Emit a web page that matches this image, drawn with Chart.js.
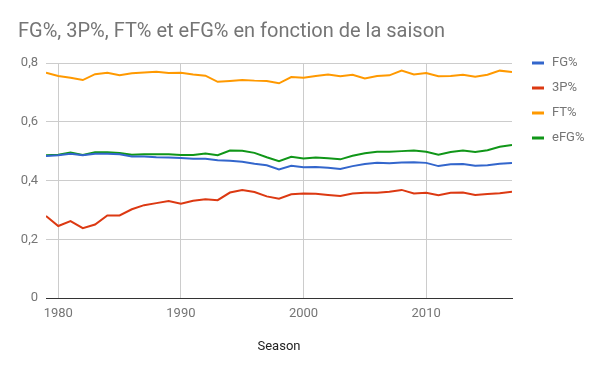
<!DOCTYPE html>
<html>
<head>
<meta charset="utf-8">
<script src="https://cdn.jsdelivr.net/npm/chart.js@4"></script>
<style>
  body { margin: 0; background: #fff; }
  #wrap { width: 600px; height: 371px; }
</style>
</head>
<body>
<div id="wrap"><canvas id="statsChart" width="600" height="371"></canvas></div>
<script>
// saisons 1979 -> 2017
const seasons = [];
for (let y = 1979; y <= 2017; y++) seasons.push(y);

const xTicks = [1980, 1990, 2000, 2010];

const fgPct = [0.483, 0.486, 0.491, 0.486, 0.491, 0.491, 0.489, 0.482, 0.482, 0.479,
  0.478, 0.477, 0.474, 0.474, 0.469, 0.467, 0.464, 0.457, 0.452, 0.438,
  0.450, 0.445, 0.446, 0.443, 0.439, 0.449, 0.456, 0.460, 0.459, 0.461,
  0.462, 0.460, 0.449, 0.455, 0.456, 0.450, 0.452, 0.457, 0.460];

const threePct = [0.279, 0.245, 0.262, 0.238, 0.250, 0.281, 0.281, 0.302, 0.316, 0.323,
  0.330, 0.321, 0.331, 0.336, 0.333, 0.359, 0.368, 0.361, 0.346, 0.338,
  0.353, 0.356, 0.355, 0.351, 0.347, 0.356, 0.358, 0.358, 0.362, 0.368,
  0.356, 0.358, 0.350, 0.358, 0.359, 0.351, 0.354, 0.357, 0.362];

const ftPct = [0.767, 0.756, 0.750, 0.742, 0.762, 0.767, 0.758, 0.765, 0.768, 0.770,
  0.766, 0.767, 0.761, 0.757, 0.736, 0.739, 0.742, 0.740, 0.739, 0.731,
  0.752, 0.750, 0.756, 0.761, 0.755, 0.760, 0.747, 0.756, 0.758, 0.774,
  0.761, 0.766, 0.755, 0.756, 0.760, 0.753, 0.760, 0.774, 0.769];

const efgPct = [0.486, 0.488, 0.495, 0.487, 0.496, 0.496, 0.494, 0.488, 0.489, 0.489,
  0.489, 0.487, 0.487, 0.492, 0.486, 0.502, 0.501, 0.494, 0.479, 0.466,
  0.481, 0.475, 0.478, 0.476, 0.472, 0.484, 0.493, 0.498, 0.498, 0.500,
  0.502, 0.498, 0.488, 0.497, 0.502, 0.497, 0.503, 0.515, 0.521];

const seriesNames = ['FG%', '3P%', 'FT%', 'eFG%'];
const seriesColors = ['#3366cc', '#dc3912', '#ff9900', '#109618'];
const seriesValues = [fgPct, threePct, ftPct, efgPct];

function toPoints(values) {
  return values.map((v, i) => ({ x: seasons[i], y: v }));
}

const datasets = seriesNames.map((name, i) => ({
  label: name,
  data: toPoints(seriesValues[i]),
  borderColor: seriesColors[i],
  backgroundColor: seriesColors[i],
  borderWidth: 2,
  pointRadius: 0,
  tension: 0
}));

// legende a droite, dessinee a la main
const sideLegend = {
  id: 'sideLegend',
  afterDraw(chart) {
    const ctx = chart.ctx;
    const x0 = chart.chartArea.right + 20;
    ctx.save();
    ctx.font = '13px Roboto';
    ctx.textBaseline = 'middle';
    seriesNames.forEach((name, i) => {
      const y = 63 + i * 25;
      ctx.fillStyle = seriesColors[i];
      ctx.fillRect(x0, y - 1.5, 12, 3);
      ctx.fillStyle = '#757575';
      ctx.fillText(name, x0 + 20, y);
    });
    ctx.restore();
  }
};

new Chart(document.getElementById('statsChart'), {
  type: 'line',
  data: { datasets: datasets },
  plugins: [sideLegend],
  options: {
    responsive: false,
    animation: false,
    layout: { padding: { top: 0, left: 18, right: 88, bottom: 0 } },
    plugins: {
      legend: { display: false },
      tooltip: { enabled: false },
      title: {
        display: true,
        text: 'FG%, 3P%, FT% et eFG% en fonction de la saison',
        align: 'start',
        color: '#757575',
        font: { family: 'Roboto', size: 20, weight: 'normal', lineHeight: 1.2 },
        padding: { top: 20, bottom: 19 }
      }
    },
    scales: {
      x: {
        type: 'linear',
        min: 1979,
        max: 2017,
        afterBuildTicks: axis => { axis.ticks = xTicks.map(v => ({ value: v })); },
        afterFit: scale => { scale.height = 73; },
        grid: { color: '#cccccc', drawTicks: false },
        border: { display: true, color: '#333333', width: 1 },
        ticks: {
          autoSkip: false,
          maxRotation: 0,
          padding: 8,
          color: '#757575',
          font: { family: 'Roboto', size: 13 },
          callback: v => String(v)
        },
        title: {
          display: true,
          text: 'Season',
          color: '#222222',
          font: { family: 'Roboto', size: 13 },
          padding: { top: 4, bottom: 16 }
        }
      },
      y: {
        min: 0,
        max: 0.8,
        afterFit: scale => { scale.width = 28; },
        grid: { color: '#cccccc', drawTicks: false },
        border: { display: false },
        ticks: {
          stepSize: 0.2,
          padding: 8,
          color: '#757575',
          font: { family: 'Roboto', size: 13 },
          callback: v => v === 0 ? '0' : v.toFixed(1).replace('.', ',')
        }
      }
    }
  }
});
</script>
</body>
</html>
